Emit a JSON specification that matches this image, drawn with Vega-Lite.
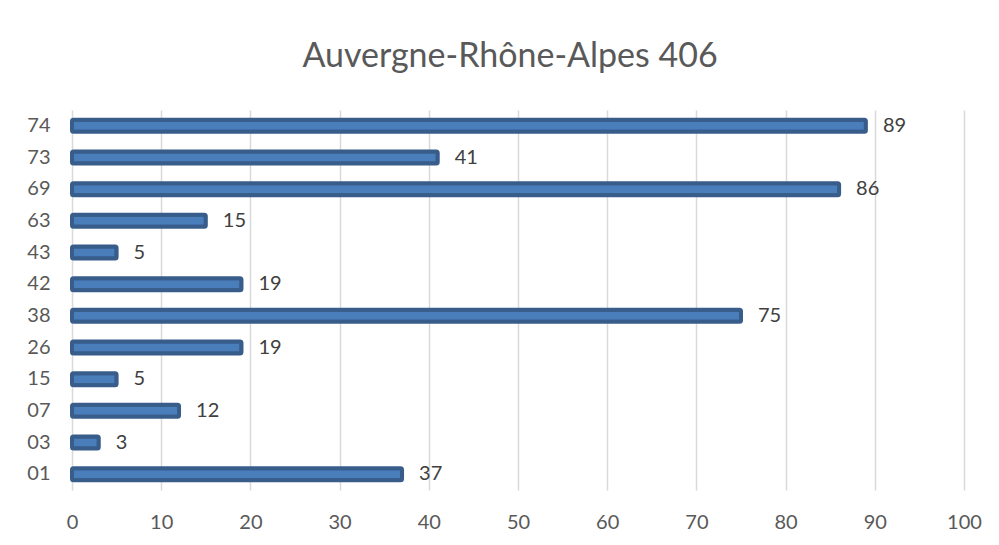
{
  "$schema": "https://vega.github.io/schema/vega-lite/v6.json",
  "autosize": {"type": "none"},
  "width": 892,
  "height": 380,
  "padding": {"left": 72, "top": 110, "right": 35, "bottom": 55},
  "background": "white",
  "title": {"text": "Auvergne-Rhône-Alpes 406", "font": "Lato", "fontSize": 34, "fontWeight": "normal", "color": "#595959", "offset": 36, "dx": -8, "anchor": "middle"},
  "config": {"view": {"stroke": null}},
  "data": {"values": [
    {"dept": "74", "value": 89},
    {"dept": "73", "value": 41},
    {"dept": "69", "value": 86},
    {"dept": "63", "value": 15},
    {"dept": "43", "value": 5},
    {"dept": "42", "value": 19},
    {"dept": "38", "value": 75},
    {"dept": "26", "value": 19},
    {"dept": "15", "value": 5},
    {"dept": "07", "value": 12},
    {"dept": "03", "value": 3},
    {"dept": "01", "value": 37}
  ]},
  "encoding": {
    "y": {"field": "dept", "type": "nominal", "sort": "descending",
      "axis": {"title": null, "domain": false, "ticks": false, "labelPadding": 22, "labelFont": "Lato", "labelFontSize": 20, "labelColor": "#595959"}},
    "x": {"field": "value", "type": "quantitative", "scale": {"domain": [0, 100], "nice": false},
      "axis": {"title": null, "domain": false, "ticks": false, "values": [0,10,20,30,40,50,60,70,80,90,100], "labelOverlap": false, "labelFlush": false, "labelPadding": 22, "labelFont": "Lato", "labelFontSize": 20, "labelColor": "#595959", "gridColor": "#d9d9d9", "gridWidth": 1.5}}
  },
  "layer": [
    {"mark": {"type": "bar", "size": 12, "fill": "#4a7ebb", "stroke": "#385d8a", "strokeWidth": 4, "cornerRadius": 1.5}},
    {"mark": {"type": "text", "align": "left", "baseline": "middle", "dx": 17, "font": "Lato", "fontSize": 20, "color": "#404040"},
      "encoding": {"text": {"field": "value", "type": "quantitative"}}}
  ]
}
